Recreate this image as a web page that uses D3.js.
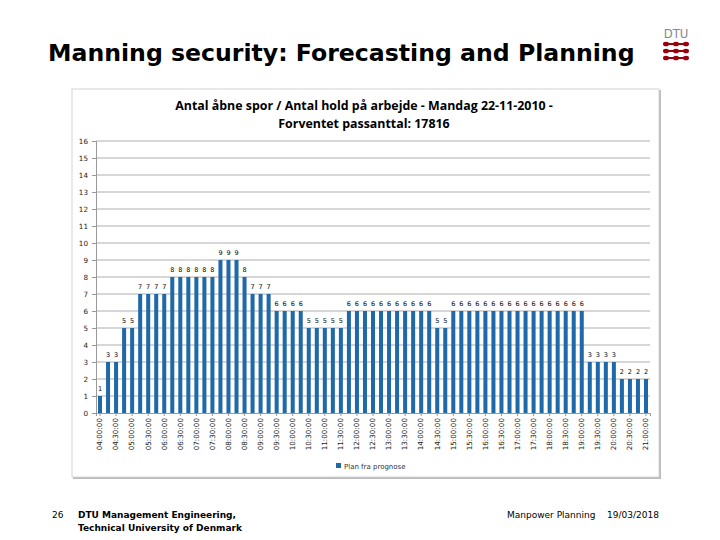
<!DOCTYPE html>
<html>
<head>
<meta charset="UTF-8">
<title>Manning security</title>
<style>
body { margin:0; background:#fff; }
svg { display:block; }
.slide-title { font-family:"DejaVu Sans", Verdana, sans-serif; font-weight:bold; font-size:23.6px; fill:#000; }
.foot { font-family:"DejaVu Sans", sans-serif; font-size:9px; fill:#000; }
.ctitle { font-family:"Open Sans", "Noto Sans", sans-serif; font-weight:bold; font-size:12.4px; fill:#000; }
.tick text { font-family:"DejaVu Sans", sans-serif; font-size:7.2px; fill:#222; }
.lbl { font-family:"DejaVu Sans", sans-serif; font-size:6.5px; fill:#000; }
</style>
</head>
<body>
<svg width="720" height="540"></svg>
<script src="https://cdn.jsdelivr.net/npm/d3@7/dist/d3.min.js"></script>
<script>
// data: open lanes per quarter hour, 04:00 - 21:00
const values = [1,3,3,5,5,7,7,7,7,8,8,8,8,8,8,9,9,9,8,7,7,7,6,6,6,6,5,5,5,5,5,
  6,6,6,6,6,6,6,6,6,6,6,5,5,
  6,6,6,6,6,6,6,6,6,6,6,6,6,6,6,6,6,
  3,3,3,3,2,2,2,2];
const times = [];
for (let h = 4; h <= 21; h++) {
  for (const m of ['00','15','30','45']) {
    if (h === 21 && m !== '00') break;
    times.push((h < 10 ? '0' + h : '' + h) + ':' + m + ':00');
  }
}
const yTicks = d3.range(0, 17);
const chartTitle = ['Antal åbne spor / Antal hold på arbejde - Mandag 22-11-2010 -', 'Forventet passanttal: 17816'];
const legendLabel = 'Plan fra prognose';

const svg = d3.select('svg');

// slide title + logo
svg.append('text').attr('class','slide-title').attr('x',48).attr('y',61).text('Manning security: Forecasting and Planning');
const logo = svg.append('g').attr('transform','translate(676,0)');
logo.append('text').attr('x',0).attr('y',38).attr('text-anchor','middle')
  .style('font-family','"DejaVu Sans Condensed","DejaVu Sans",sans-serif').style('font-size','13px')
  .style('fill','#888').text('DTU');
[44,51,58].forEach(y => {
  logo.append('rect').attr('x',-12).attr('y',y-1).attr('width',24).attr('height',2).attr('fill','#99000d');
  [-10,0,10].forEach(cx => logo.append('ellipse').attr('cx',cx).attr('cy',y).attr('rx',3).attr('ry',2.3).attr('fill','#99000d'));
});

// chart frame
svg.append('rect').attr('x',73).attr('y',90).attr('width',588).attr('height',389).attr('fill','#bbb');
svg.append('rect').attr('x',72).attr('y',89).attr('width',587).attr('height',388).attr('fill','#fff').attr('stroke','#d4d4d4');

svg.selectAll('.ctitle').data(chartTitle).enter().append('text')
  .attr('class','ctitle').attr('x',364).attr('y',(d,i)=>110+i*18).attr('text-anchor','middle').text(d=>d);

const x = d3.scaleBand().domain(times).range([96,650]).paddingInner(0.5).paddingOuter(0.25);
const y = d3.scaleLinear().domain([0,16]).range([413,141]);

const g = svg.append('g');
g.append('g').selectAll('line').data(yTicks.slice(1)).enter().append('line')
  .attr('x1',96).attr('x2',650).attr('y1',d=>y(d)).attr('y2',d=>y(d))
  .attr('stroke','#999').attr('stroke-width',0.8);

const yAxis = g.append('g').attr('transform','translate(96,0)')
  .call(d3.axisLeft(y).tickValues(yTicks).tickSize(4).tickPadding(4));
yAxis.select('.domain').attr('stroke','#999');
yAxis.selectAll('.tick line').attr('stroke','#999');

g.selectAll('.bar').data(values).enter().append('rect')
  .attr('x',(d,i)=>x(times[i])).attr('width',x.bandwidth())
  .attr('y',d=>y(d)).attr('height',d=>y(0)-y(d)).attr('fill','#1f69a8');

g.selectAll('.lbl').data(values).enter().append('text').attr('class','lbl')
  .attr('x',(d,i)=>x(times[i])+x.bandwidth()/2).attr('y',d=>y(d)-5)
  .attr('text-anchor','middle').text(d=>d);

const xAxis = g.append('g').attr('transform','translate(0,413)')
  .call(d3.axisBottom(x).tickValues(times.filter((t,i)=>i%2===0)).tickSize(3).tickPadding(4));
xAxis.select('.domain').attr('stroke','#999');
xAxis.selectAll('.tick line').attr('stroke','#999');
xAxis.selectAll('.tick text').attr('transform','rotate(-90)').attr('text-anchor','end')
  .attr('x',-5).attr('y',0).attr('dy','0.32em');

// legend
svg.append('rect').attr('x',336).attr('y',463).attr('width',5).attr('height',5).attr('fill','#1f69a8');
svg.append('text').attr('class','lbl').attr('x',344).attr('y',468.5).style('font-size','7px').style('fill','#333').text(legendLabel);

// footer
svg.append('text').attr('class','foot').attr('x',52).attr('y',518).text('26');
svg.append('text').attr('class','foot').attr('x',78).attr('y',518).style('font-weight','bold').text('DTU Management Engineering,');
svg.append('text').attr('class','foot').attr('x',78).attr('y',531).style('font-weight','bold').text('Technical University of Denmark');
svg.append('text').attr('class','foot').attr('x',507).attr('y',518).text('Manpower Planning');
svg.append('text').attr('class','foot').attr('x',607).attr('y',518).text('19/03/2018');
</script>
</body>
</html>
